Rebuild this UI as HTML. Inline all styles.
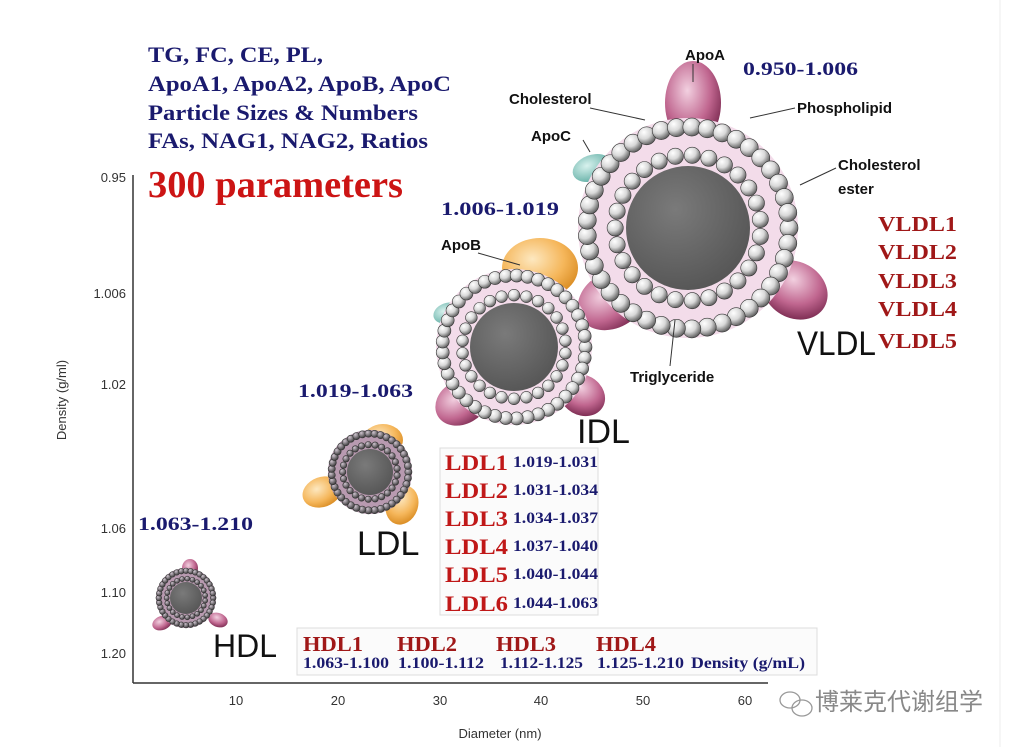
<!DOCTYPE html>
<html><head><meta charset="utf-8"><style>
html,body{margin:0;padding:0;background:#fff;}
svg{display:block}
.s{font-family:"Liberation Serif",serif;font-weight:bold}
.a{font-family:"Liberation Sans",sans-serif}
</style></head><body>
<svg id="sv" width="1014" height="747" viewBox="0 0 1014 747" xmlns="http://www.w3.org/2000/svg">
<defs>
<radialGradient id="sp" cx="0.35" cy="0.3" r="0.75"><stop offset="0" stop-color="#ffffff"/><stop offset="0.5" stop-color="#d8d8d8"/><stop offset="1" stop-color="#555"/></radialGradient>
<radialGradient id="dk" cx="0.35" cy="0.3" r="0.75"><stop offset="0" stop-color="#cfc4cf"/><stop offset="1" stop-color="#333"/></radialGradient>
<radialGradient id="core" cx="0.4" cy="0.35" r="0.7"><stop offset="0" stop-color="#7a7a7a"/><stop offset="1" stop-color="#555"/></radialGradient>
<radialGradient id="pk" cx="0.4" cy="0.35" r="0.7"><stop offset="0" stop-color="#f2d0e0"/><stop offset="0.6" stop-color="#c0668f"/><stop offset="1" stop-color="#7a2a50"/></radialGradient>
<radialGradient id="or" cx="0.4" cy="0.35" r="0.7"><stop offset="0" stop-color="#fde8c0"/><stop offset="0.6" stop-color="#f5b65a"/><stop offset="1" stop-color="#d88a20"/></radialGradient>
<radialGradient id="tl" cx="0.4" cy="0.35" r="0.7"><stop offset="0" stop-color="#d8f2ee"/><stop offset="1" stop-color="#5aaaa0"/></radialGradient>
</defs>
<rect width="1014" height="747" fill="#fff"/>
<line x1="1000" y1="0" x2="1000" y2="747" stroke="#eee"/>
<line x1="133" y1="175" x2="133" y2="683" stroke="#333" stroke-width="1.5"/>
<line x1="133" y1="683" x2="768" y2="683" stroke="#333" stroke-width="1.5"/>
<g class="a" font-size="13" fill="#333" text-anchor="end">
<text x="126" y="182">0.95</text><text x="126" y="298">1.006</text><text x="126" y="389">1.02</text>
<text x="126" y="533">1.06</text><text x="126" y="597">1.10</text><text x="126" y="658">1.20</text>
</g>
<g class="a" font-size="13" fill="#333" text-anchor="middle">
<text x="236" y="705">10</text><text x="338" y="705">20</text><text x="440" y="705">30</text>
<text x="541" y="705">40</text><text x="643" y="705">50</text><text x="745" y="705">60</text>
<text x="500" y="738">Diameter (nm)</text>
</g>
<text class="a" font-size="13" fill="#333" text-anchor="middle" transform="translate(66,400) rotate(-90)">Density (g/ml)</text>

<g id="parts"></g>

<g class="s" font-size="22" fill="#1a1a6e">
<text x="148" y="62" textLength="175" lengthAdjust="spacingAndGlyphs">TG, FC, CE, PL,</text>
<text x="148" y="91" textLength="303" lengthAdjust="spacingAndGlyphs">ApoA1, ApoA2, ApoB, ApoC</text>
<text x="148" y="120" textLength="270" lengthAdjust="spacingAndGlyphs">Particle Sizes &amp; Numbers</text>
<text x="148" y="148" textLength="280" lengthAdjust="spacingAndGlyphs">FAs, NAG1, NAG2, Ratios</text>
</g>
<text class="s" x="148" y="197" font-size="38" fill="#cc1414" textLength="255" lengthAdjust="spacingAndGlyphs">300 parameters</text>
<g class="s" font-size="19" fill="#1a1a6e" font-weight="normal">
<text x="743" y="75" textLength="115" lengthAdjust="spacingAndGlyphs">0.950-1.006</text>
<text x="441" y="215" textLength="118" lengthAdjust="spacingAndGlyphs">1.006-1.019</text>
<text x="298" y="397" textLength="115" lengthAdjust="spacingAndGlyphs">1.019-1.063</text>
<text x="138" y="530" textLength="115" lengthAdjust="spacingAndGlyphs">1.063-1.210</text>
</g>
<g class="s" font-size="21" fill="#a01818" font-weight="normal">
<text x="878" y="231" textLength="79" lengthAdjust="spacingAndGlyphs">VLDL1</text><text x="878" y="259" textLength="79" lengthAdjust="spacingAndGlyphs">VLDL2</text><text x="878" y="288" textLength="79" lengthAdjust="spacingAndGlyphs">VLDL3</text>
<text x="878" y="316" textLength="79" lengthAdjust="spacingAndGlyphs">VLDL4</text><text x="878" y="348" textLength="79" lengthAdjust="spacingAndGlyphs">VLDL5</text>
</g>
<g class="a" fill="#111">
<text x="797" y="355" font-size="34" textLength="79" lengthAdjust="spacingAndGlyphs">VLDL</text>
<text x="577" y="443" font-size="34">IDL</text>
<text x="357" y="555" font-size="34">LDL</text>
<text x="213" y="657" font-size="32">HDL</text>
</g>
<g class="a" font-size="15" font-weight="bold" fill="#111">
<text x="685" y="60">ApoA</text>
<text x="509" y="104">Cholesterol</text>
<text x="797" y="113">Phospholipid</text>
<text x="531" y="141">ApoC</text>
<text x="838" y="170">Cholesterol</text>
<text x="838" y="194">ester</text>
<text x="441" y="250">ApoB</text>
<text x="630" y="382">Triglyceride</text>
</g>
<g stroke="#333" stroke-width="1" fill="none">
<line x1="693" y1="64" x2="693" y2="82"/>
<line x1="590" y1="108" x2="645" y2="120"/>
<line x1="795" y1="108" x2="750" y2="118"/>
<line x1="583" y1="140" x2="590" y2="152"/>
<line x1="836" y1="168" x2="800" y2="185"/>
<line x1="478" y1="253" x2="520" y2="265"/>
<line x1="670" y1="366" x2="675" y2="320"/>
</g>
<rect x="440" y="448" width="158" height="167" fill="#fbfbfb" stroke="#ddd"/>
<g class="s" font-size="22" fill="#c01818" font-weight="normal">
<text x="445" y="470" textLength="63" lengthAdjust="spacingAndGlyphs">LDL1</text><text x="445" y="498" textLength="63" lengthAdjust="spacingAndGlyphs">LDL2</text><text x="445" y="526" textLength="63" lengthAdjust="spacingAndGlyphs">LDL3</text>
<text x="445" y="554" textLength="63" lengthAdjust="spacingAndGlyphs">LDL4</text><text x="445" y="582" textLength="63" lengthAdjust="spacingAndGlyphs">LDL5</text><text x="445" y="611" textLength="63" lengthAdjust="spacingAndGlyphs">LDL6</text>
</g>
<g class="s" font-size="16" fill="#1a1a6e">
<text x="513" y="467" textLength="85" lengthAdjust="spacingAndGlyphs">1.019-1.031</text><text x="513" y="495" textLength="85" lengthAdjust="spacingAndGlyphs">1.031-1.034</text><text x="513" y="523" textLength="85" lengthAdjust="spacingAndGlyphs">1.034-1.037</text>
<text x="513" y="551" textLength="85" lengthAdjust="spacingAndGlyphs">1.037-1.040</text><text x="513" y="579" textLength="85" lengthAdjust="spacingAndGlyphs">1.040-1.044</text><text x="513" y="608" textLength="85" lengthAdjust="spacingAndGlyphs">1.044-1.063</text>
</g>
<rect x="297" y="628" width="520" height="47" fill="#fbfbfb" stroke="#ddd"/>
<g class="s" font-size="21" fill="#a01818" font-weight="normal">
<text x="303" y="651" textLength="60" lengthAdjust="spacingAndGlyphs">HDL1</text><text x="397" y="651" textLength="60" lengthAdjust="spacingAndGlyphs">HDL2</text><text x="496" y="651" textLength="60" lengthAdjust="spacingAndGlyphs">HDL3</text><text x="596" y="651" textLength="60" lengthAdjust="spacingAndGlyphs">HDL4</text>
</g>
<g class="s" font-size="16" fill="#1a1a6e">
<text x="303" y="668" textLength="86" lengthAdjust="spacingAndGlyphs">1.063-1.100</text><text x="398" y="668" textLength="86" lengthAdjust="spacingAndGlyphs">1.100-1.112</text><text x="500" y="668" textLength="83" lengthAdjust="spacingAndGlyphs">1.112-1.125</text><text x="597" y="668" textLength="87" lengthAdjust="spacingAndGlyphs">1.125-1.210</text><text x="691" y="668" textLength="114" lengthAdjust="spacingAndGlyphs">Density (g/mL)</text>
</g>
<g stroke="#999" fill="none" stroke-width="1.3"><ellipse cx="790" cy="700" rx="10" ry="8"/><ellipse cx="802" cy="708" rx="10" ry="8"/></g>
<text x="815" y="710" font-family="'Noto Sans CJK SC',sans-serif" font-size="24" fill="#888">博莱克代谢组学</text>
</svg>
<script>
(function(){
var NS="http://www.w3.org/2000/svg",g=document.getElementById("parts");
function el(t,a){var e=document.createElementNS(NS,t);for(var k in a)e.setAttribute(k,a[k]);g.appendChild(e);return e;}
function lobe(x,y,rx,ry,f,rot){el("ellipse",{cx:x,cy:y,rx:rx,ry:ry,fill:"url(#"+f+")",transform:"rotate("+(rot||0)+" "+x+" "+y+")"});}
function ring(cx,cy,R,n,r,f,off){for(var i=0;i<n;i++){var a=2*Math.PI*(i+(off||0))/n;el("circle",{cx:cx+R*Math.cos(a),cy:cy+R*Math.sin(a),r:r,fill:"url(#"+f+")",stroke:"#333","stroke-width":0.6});}}
function part(cx,cy,Rout,core,sr,f,pink){
 el("circle",{cx:cx,cy:cy,r:Rout,fill:pink});
 ring(cx,cy,Rout-sr,Math.round(2*Math.PI*(Rout-sr)/(sr*1.7)),sr,f,0);
 ring(cx,cy,core+sr*1.2,Math.round(2*Math.PI*(core+sr*1.2)/(sr*1.9)),sr*0.9,f,0.5);
 el("circle",{cx:cx,cy:cy,r:core,fill:"url(#core)"});
}
lobe(693,103,28,42,"pk",0);lobe(612,300,36,28,"pk",-30);lobe(795,290,34,28,"pk",30);lobe(592,168,20,13,"tl",-20);
part(688,228,110,62,9,"sp","#f3dcea");
lobe(540,268,38,30,"or",0);lobe(462,402,28,22,"pk",-30);lobe(582,395,24,20,"pk",30);lobe(447,313,14,10,"tl",-20);
part(514,347,78,44,6.5,"sp","#f3dcea");
lobe(383,440,20,16,"or",0);lobe(322,492,20,15,"or",-20);lobe(402,505,16,20,"or",20);
part(370,472,42,23,3.6,"dk","#b89ab0");
lobe(190,568,8,9,"pk",0);lobe(162,623,10,7,"pk",-20);lobe(218,620,10,7,"pk",20);
part(186,598,30,16,2.8,"dk","#b89ab0");
})();
</script>
</body></html>
